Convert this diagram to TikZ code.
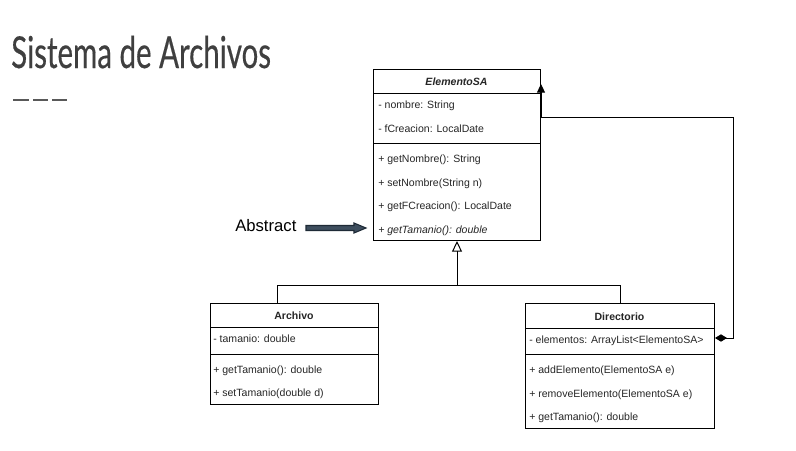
\documentclass[tikz,border=0pt]{standalone}
\usepackage{fontspec}
\setmainfont{Liberation Sans}
\newfontfamily\titlefont[FakeStretch=0.67,FakeBold=0.35]{Lato}
\usetikzlibrary{arrows.meta,calc}
\definecolor{titlegray}{HTML}{3F3F3F}
\definecolor{dashgray}{HTML}{595959}
\definecolor{arrfill}{HTML}{3E4E5E}
\definecolor{arrline}{HTML}{1E2A36}
\begin{document}
\begin{tikzpicture}[x=0.75pt,y=-0.75pt,
  umlbox/.style={draw=black, line width=0.75pt, inner sep=0pt, anchor=north west},
  rowtext/.style={anchor=base west, inner sep=0pt, font=\fontsize{7.9}{9}\selectfont, text=black!85},
  headtext/.style={anchor=base, inner sep=0pt, font=\fontsize{7.9}{9}\selectfont\bfseries, text=black!85},
  sepline/.style={draw=black, line width=0.75pt},
  conn/.style={draw=black, line width=0.75pt},
  dashln/.style={draw=dashgray, line width=0.9pt}]
\useasboundingbox[fill=white] (0,0) rectangle (796,450);

% title
\node[anchor=base west, inner sep=0pt, text=titlegray, font=\titlefont\fontsize{33}{36}\selectfont] (title) at (11,68) {Sistema de Archivos};
\coordinate (d1a) at (13,100); \coordinate (d1b) at (29,100);
\coordinate (d2a) at (33,100); \coordinate (d2b) at (48,100);
\coordinate (d3a) at (52,100); \coordinate (d3b) at (67,100);
\draw[dashln] (d1a) -- (d1b); \draw[dashln] (d2a) -- (d2b); \draw[dashln] (d3a) -- (d3b);

% ElementoSA
\node[umlbox, minimum width=125.25pt, minimum height=128.25pt] (elem) at (373,69) {};
\node[headtext, font=\fontsize{7.9}{9}\selectfont\bfseries\itshape] (elemh) at (456.5,85) {ElementoSA};
\draw[sepline] (elem.west |- 0,93) -- (elem.east |- 0,93);
\draw[sepline] (elem.west |- 0,143) -- (elem.east |- 0,143);
\node[rowtext] (e1) at (378,108) {- nombre: String};
\node[rowtext] (e2) at (378,132) {- fCreacion: LocalDate};
\node[rowtext] (e3) at (378,162) {+ getNombre(): String};
\node[rowtext] (e4) at (378,186) {+ setNombre(String n)};
\node[rowtext] (e5) at (378,209) {+ getFCreacion(): LocalDate};
\node[rowtext, font=\fontsize{7.9}{9}\selectfont\itshape] (e6) at (378,233) {+ getTamanio(): double};

% Archivo
\node[umlbox, minimum width=126pt, minimum height=75.75pt] (arch) at (210,303) {};
\node[headtext] (archh) at (294,319) {Archivo};
\draw[sepline] (arch.west |- 0,327) -- (arch.east |- 0,327);
\draw[sepline] (arch.west |- 0,354) -- (arch.east |- 0,354);
\node[rowtext] (a1) at (213,342) {- tamanio: double};
\node[rowtext] (a2) at (213,373) {+ getTamanio(): double};
\node[rowtext] (a3) at (213,396) {+ setTamanio(double d)};

% Directorio
\node[umlbox, minimum width=141.75pt, minimum height=93.75pt] (dir) at (525,303) {};
\node[headtext] (dirh) at (619.5,320) {Directorio};
\draw[sepline] (dir.west |- 0,328) -- (dir.east |- 0,328);
\draw[sepline] (dir.west |- 0,354) -- (dir.east |- 0,354);
\node[rowtext] (r1) at (529,343) {- elementos: ArrayList<ElementoSA>};
\node[rowtext] (r2) at (529,373) {+ addElemento(ElementoSA e)};
\node[rowtext] (r3) at (529,397) {+ removeElemento(ElementoSA e)};
\node[rowtext] (r4) at (529,420) {+ getTamanio(): double};

% inheritance
\coordinate (jn) at (elem.south |- 0,285);
\coordinate (archtop) at ($(arch.north west)!0.4!(arch.north east)$);
\draw[conn] (archtop) |- (dir.north |- jn) -- (dir.north);
\draw[conn, -{Triangle[open, length=8pt, width=7.5pt]}] (jn) -- (elem.south);

% composition
\coordinate (cstart) at (dir.east |- 0,338);
\coordinate (ctop) at (elem.east |- 0,117);
\coordinate (cend) at (elem.east |- 0,84);
\draw[conn, {Diamond[length=9pt, width=5.5pt]}-{Triangle[length=6.5pt, width=6pt]}] (cstart) -- ++(18,0) |- (ctop) -- (cend);

% Abstract label + arrow
\node[anchor=west, inner sep=0pt, font=\fontsize{12.5}{14}\selectfont, text=black] (abs) at (235,226) {Abstract};
\coordinate (s0) at (306,228);
\filldraw[fill=arrfill, draw=arrline, line width=0.8pt, line join=miter]
  (s0) ++(0,-2.5) -- ++(48,0) -- ++(0,-2.5) -- (366,228) -- (354,233) -- ++(0,-2.5) -- (306,230.5) -- cycle;
\end{tikzpicture}
\end{document}
